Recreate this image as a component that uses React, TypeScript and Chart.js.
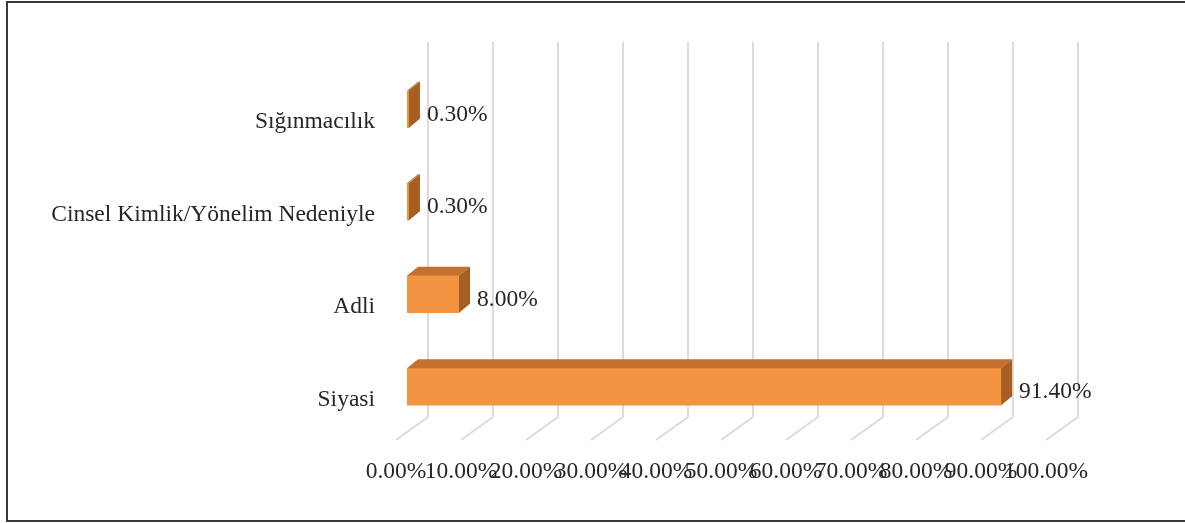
import React, { useEffect, useRef } from "react";
import { Chart, registerables } from "chart.js";

Chart.register(...registerables);

const categories = ["Sığınmacılık", "Cinsel Kimlik/Yönelim Nedeniyle", "Adli", "Siyasi"];
const values = [0.3, 0.3, 8.0, 91.4];
const xTickLabels = ["0.00%", "10.00%", "20.00%", "30.00%", "40.00%", "50.00%", "60.00%", "70.00%", "80.00%", "90.00%", "100.00%"];

const FONT = "'Liberation Serif', 'Times New Roman', serif";
const TEXT = "#262626";
const FRONT = "#F29440";
const TOP = "#C5702D";
const SIDE = "#A65E22";
const DX = 11;
const DY = -9;

const threeD = {
  id: "threeD",
  beforeDraw(chart: any) {
    const ctx = chart.ctx;
    ctx.save();
    ctx.fillStyle = "#ffffff";
    ctx.fillRect(0, 0, chart.width, chart.height);
    ctx.strokeStyle = "#3a3a3a";
    ctx.lineWidth = 2;
    ctx.beginPath();
    ctx.moveTo(1200, 2);
    ctx.lineTo(7, 2);
    ctx.lineTo(7, 521);
    ctx.lineTo(1200, 521);
    ctx.stroke();
    ctx.restore();
  },
  beforeDatasetsDraw(chart: any) {
    const ctx = chart.ctx;
    const xs = chart.scales.x;
    ctx.save();
    ctx.strokeStyle = "#d9d9d9";
    ctx.lineWidth = 1.8;
    for (let v = 0; v <= 100; v += 10) {
      const xb = xs.getPixelForValue(v);
      ctx.beginPath();
      ctx.moveTo(xb + 21, 42);
      ctx.lineTo(xb + 21, 417);
      ctx.lineTo(xb - 11, 440);
      ctx.stroke();
    }
    ctx.restore();
  },
  afterDatasetsDraw(chart: any) {
    const ctx = chart.ctx;
    const meta = chart.getDatasetMeta(0);
    ctx.save();
    meta.data.forEach((bar: any, i: number) => {
      const p = bar.getProps(["x", "y", "base", "height"], true);
      const x0 = p.base;
      const x1 = p.x;
      const yT = p.y - p.height / 2;
      const yB = p.y + p.height / 2;
      ctx.fillStyle = TOP;
      ctx.beginPath();
      ctx.moveTo(x0, yT);
      ctx.lineTo(x1, yT);
      ctx.lineTo(x1 + DX, yT + DY);
      ctx.lineTo(x0 + DX, yT + DY);
      ctx.closePath();
      ctx.fill();
      ctx.fillStyle = SIDE;
      ctx.beginPath();
      ctx.moveTo(x1, yT);
      ctx.lineTo(x1 + DX, yT + DY);
      ctx.lineTo(x1 + DX, yB + DY);
      ctx.lineTo(x1, yB);
      ctx.closePath();
      ctx.fill();
      ctx.fillStyle = TEXT;
      ctx.font = `23.5px ${FONT}`;
      ctx.textAlign = "left";
      ctx.textBaseline = "middle";
      ctx.fillText(values[i].toFixed(2) + "%", x1 + 18, p.y + 5.5);
    });
    ctx.restore();
  },
};

export default function App() {
  const ref = useRef<HTMLCanvasElement | null>(null);
  useEffect(() => {
    document.body.style.margin = "0";
    const chart = new Chart(ref.current as HTMLCanvasElement, {
      type: "bar",
      data: {
        labels: categories,
        datasets: [
          {
            data: values,
            backgroundColor: FRONT,
            borderWidth: 0,
            barThickness: 37,
          },
        ],
      },
      options: {
        indexAxis: "y",
        animation: false,
        responsive: true,
        maintainAspectRatio: false,
        layout: { padding: { left: 0, right: 128, top: 63, bottom: 0 } },
        plugins: { legend: { display: false }, tooltip: { enabled: false } },
        scales: {
          x: {
            min: 0,
            max: 100,
            grid: { display: false, drawTicks: false },
            border: { display: false },
            afterFit: (s: any) => {
              s.height = 90;
            },
            ticks: {
              stepSize: 10,
              padding: 25,
              labelOffset: -11,
              maxRotation: 0,
              autoSkip: false,
              color: TEXT,
              font: { family: FONT, size: 23.5 },
              callback: (_v: any, i: number) => xTickLabels[i],
            },
          },
          y: {
            grid: { display: false, drawTicks: false },
            border: { display: false },
            afterFit: (s: any) => {
              s.width = 407;
            },
            ticks: {
              padding: 32,
              labelOffset: 13,
              color: TEXT,
              font: { family: FONT, size: 23.5 },
            },
          },
        },
      },
      plugins: [threeD],
    });
    return () => chart.destroy();
  }, []);
  return (
    <div style={{ width: 1185, height: 523, position: "relative" }}>
      <canvas ref={ref} />
    </div>
  );
}
